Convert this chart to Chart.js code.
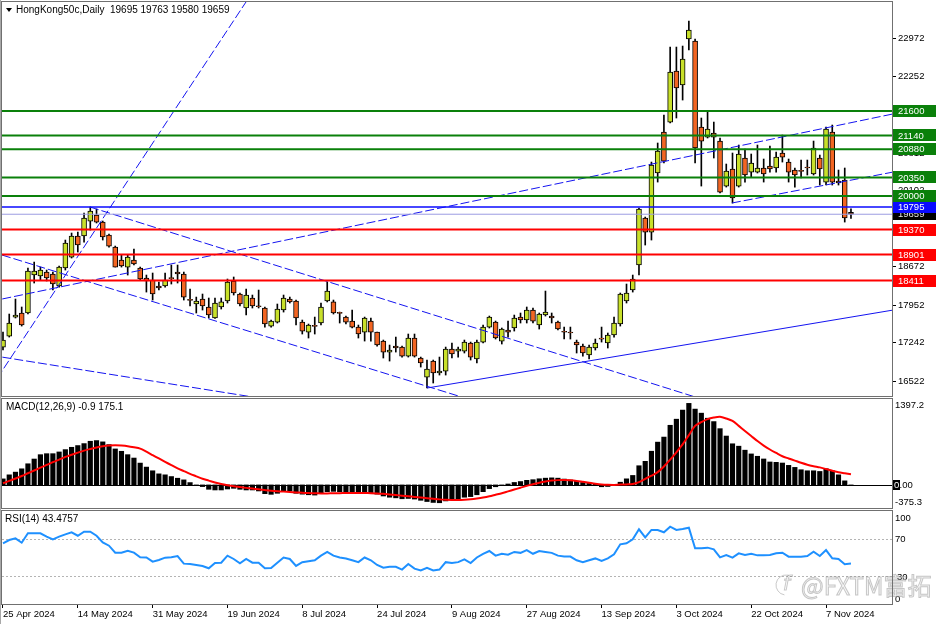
<!DOCTYPE html>
<html>
<head>
<meta charset="utf-8">
<script src="https://cdn.jsdelivr.net/npm/chart.js@4.4.1/dist/chart.umd.min.js"></script>
<style>
  html, body { margin: 0; padding: 0; background: #fff; }
  #wrap { position: relative; width: 936px; height: 624px; overflow: hidden; background: #fff; }
  canvas { position: absolute; left: 0; }
</style>
</head>
<body>
<div id="wrap">
  <canvas id="priceChart" width="936" height="398" style="top:0px"></canvas>
  <canvas id="macdChart" width="936" height="112" style="top:398px"></canvas>
  <canvas id="rsiChart" width="936" height="114" style="top:510px"></canvas>
</div>
<script>
// x axis labels, one every 12 bars
const tickLabels = ["25 Apr 2024", "14 May 2024", "31 May 2024", "19 Jun 2024", "8 Jul 2024", "24 Jul 2024",
  "9 Aug 2024", "27 Aug 2024", "13 Sep 2024", "3 Oct 2024", "22 Oct 2024", "7 Nov 2024"];
const tickEvery = 12;

// daily OHLC, 25 Apr 2024 .. 13 Nov 2024
const open = [17162,17369,17726,17802,17802,18516,18498,18572,18535,18310,
  18648,18854,19250,19250,19531,19644,19512,19268,19042,18798,
  18666,18798,18648,18460,18422,18310,18310,18460,18572,18535,
  18046,17971,18065,17915,17708,17915,18028,18404,18159,17896,
  18084,17934,17896,17557,17632,17858,18065,18028,17632,17444,
  17557,17614,18028,18010,17802,17726,17651,17538,17444,17651,
  17444,17275,17068,17181,17162,16993,17332,16956,16598,16899,
  16674,16711,17125,17087,17087,17238,16937,17256,17538,17632,
  17275,17482,17520,17726,17670,17858,17576,17764,17745,17632,
  17444,17444,17256,17181,17012,17144,17313,17238,17388,17595,
  18028,18234,18704,19588,19324,20434,21204,21392,22351,22088,
  22953,22915,21298,21110,21186,21035,20189,20509,20189,20716,
  20452,20452,20528,20565,20528,20810,20640,20490,20471,20546,
  20415,20716,20264,21204,20283,20302,19695];
const high = [17444,17783,18065,17915,18648,18760,18666,18610,18572,18686,
  19174,19306,19324,19682,19795,19757,19531,19287,19061,18892,
  18892,19005,18666,18516,18554,18385,18554,18704,18704,18572,
  18253,18102,18159,18084,18084,18084,18441,18479,18178,18253,
  18140,18234,17915,17670,17971,18140,18102,18046,17670,17595,
  17726,17990,18385,18046,17820,17745,17858,17576,17726,17708,
  17444,17294,17200,17350,17181,17407,17407,16974,16918,16918,
  16974,17162,17238,17162,17294,17256,17294,17576,17745,17651,
  17520,17651,17764,17802,17915,17896,17802,18215,17802,17651,
  17538,17538,17294,17219,17200,17313,17538,17426,17726,18178,
  18347,18516,19776,19606,20640,20998,21524,22802,22802,22821,
  23291,22953,21468,21599,21392,21092,20603,20810,20960,20885,
  20791,20960,20697,20941,20828,21148,20697,20528,20678,20678,
  21035,20772,21298,21336,20490,20528,19763];
const low = [17106,17350,17708,17557,17783,18366,18422,18404,18234,18290,
  18610,18836,18948,19136,19362,19494,19174,19042,18666,18666,
  18516,18704,18422,18196,18046,18234,18290,18347,18366,18046,
  17934,17802,17858,17708,17700,17877,17990,18140,17934,17764,
  17896,17896,17538,17538,17614,17820,17990,17576,17407,17332,
  17407,17576,18010,17783,17614,17595,17520,17332,17275,17275,
  17181,16956,16899,17068,16974,16974,16974,16786,16392,16486,
  16636,16636,16956,16974,17050,16918,16862,17238,17520,17313,
  17219,17350,17463,17614,17614,17614,17501,17745,17614,17482,
  17313,17313,17050,16993,16937,17106,17256,17144,17350,17557,
  17990,18196,18516,19080,19174,20264,20622,21374,21468,21806,
  22746,20622,20189,21092,20716,20058,20170,19870,20170,20264,
  20358,20434,20264,20452,20452,20640,20264,20170,20340,20396,
  20396,20208,20208,20208,20208,19512,19580];
const close = [17294,17614,17764,17576,18591,18591,18610,18460,18347,18666,
  19118,19250,19080,19588,19719,19512,19231,19061,18666,18686,
  18854,18723,18441,18404,18159,18272,18422,18450,18535,18102,
  18040,18028,17934,17764,17990,18010,18385,18178,17971,18140,
  17934,17920,17595,17651,17877,18084,18010,17708,17463,17576,
  17550,17915,18215,17802,17795,17632,17538,17407,17708,17444,
  17200,17068,17106,17144,16993,17332,16993,16862,16749,16674,
  16711,17125,17031,17125,17256,16974,17256,17538,17726,17332,
  17501,17444,17708,17670,17858,17651,17783,17820,17708,17501,
  17440,17426,17200,17050,17162,17238,17310,17388,17614,18159,
  18178,18441,19757,19324,20584,20847,20659,22332,22032,22577,
  23122,20904,21035,21261,21110,20076,20471,19964,20791,20396,
  20622,20528,20415,20509,20734,20734,20452,20396,20465,20528,
  20904,20509,21261,20264,20246,19588,19659];

// MACD(12,26,9): histogram (main) and signal
const macdHist = [98,164,208,262,344,421,492,508,508,536,
  574,612,640,672,710,721,700,656,585,547,
  492,437,355,290,230,180,164,136,109,82,
  38,0,-27,-71,-82,-82,-66,-55,-71,-82,
  -82,-98,-142,-153,-136,-109,-98,-136,-150,-160,
  -165,-140,-110,-105,-110,-120,-130,-140,-130,-130,
  -150,-180,-200,-210,-225,-220,-230,-250,-270,-285,
  -290,-260,-245,-230,-200,-190,-160,-110,-60,-30,
  -5,15,40,55,75,85,100,110,115,110,
  95,80,60,40,25,10,-30,-25,5,44,
  99,154,312,384,548,696,778,970,1069,1217,
  1326,1233,1167,1085,1030,915,795,669,630,565,
  504,466,422,373,367,356,318,285,247,230,
  230,219,263,230,164,66,-0.9];
const macdSignal = [27,65,105,145,190,235,280,325,370,412,
  455,490,525,558,585,610,628,640,645,640,
  630,612,590,540,485,430,375,322,270,225,
  180,140,100,70,40,15,-5,-22,-35,-48,
  -60,-72,-84,-95,-103,-109,-116,-122,-128,-132,
  -136,-138,-138,-136,-134,-132,-130,-130,-132,-134,
  -138,-145,-155,-165,-175,-185,-195,-205,-215,-225,
  -235,-242,-245,-245,-240,-232,-220,-205,-185,-160,
  -135,-105,-75,-45,-15,10,35,55,70,78,
  80,75,65,50,35,20,8,2,0,5,
  8,15,45,99,150,208,300,411,530,658,
  810,960,1020,1069,1095,1107,1080,1041,960,877,
  795,713,640,576,520,466,430,395,360,329,
  305,285,258,230,205,190,175.1];

// RSI(14)
const rsi = [65.3,68.8,70.6,65.9,76,76,76,72.4,69.5,72.4,
  74.9,77.1,73.4,77.8,77.8,73.4,66.3,62.7,55.2,55.2,
  57.3,55.2,50.2,50,45.5,47.3,49.8,50.2,51.6,43.4,
  43,41.9,40.9,38.4,44.1,44.4,52,48.4,43.7,48.4,
  44.4,44.4,38.4,38.7,44.4,50,48.4,40.9,45,46,
  47,52,56,52,50,49,47,45,50,47,
  42,39,40,40,37,43,38,36,39,36,
  37,45,44,45,48,44,50,54,57,52,
  54,53,56,55,58,54,57,56,55,52,
  51,51,47,45,47,49,46.2,49.1,53.4,64.2,
  65.3,69.5,80.3,71.7,79.6,79.6,77.1,83.1,79.6,80.6,
  82,59.9,59.9,60.6,58.8,50.2,52.7,49.8,54.5,52.7,
  54,52.3,52.3,52.7,54.5,55.2,50.9,50.9,50.9,51.6,
  56.2,51.6,58,49.1,48.4,42.7,43.4757];

const priceTicks = [22972, 22252, 21532, 20812, 20102, 19392, 18672, 17952, 17242, 16522];
const greenLevels = [21600, 21140, 20880, 20350, 20000];
const redLevels = [19370, 18901, 18411];
const blueLevel = 19795;
const lastPrice = 19659;

// trendlines as [bar index, price] end points
const dashedLines = [
  [[-2, 16385], [42, 24186]],
  [[-2, 18020], [144, 21575]],
  [[13.95, 19795], [112, 16187]],
  [[-2, 18959], [76, 16135]],
  [[-2, 17008], [42, 16187]],
  [[116.9, 19870], [144, 20480]],
];
const solidLines = [
  [[68, 16392], [144, 17882]],
];

const bull = "#c8e02a";
const bear = "#f26522";
const labelFont = "9.5px 'Liberation Sans', Arial, sans-serif";
const titleFont = "10px 'Liberation Sans', Arial, sans-serif";

Chart.defaults.font.family = "'Liberation Sans', Arial, sans-serif";
Chart.defaults.font.size = 9.5;
Chart.defaults.color = "#000";

const idx = close.map((_, i) => i);
const xMin = -0.16;
const xMax = 142.58;

function baseX(show) {
  const axis = {
    type: "linear",
    min: xMin,
    max: xMax,
    offset: false,
    display: show,
    afterBuildTicks: (s) => { s.ticks = tickLabels.map((_, k) => ({ value: k * tickEvery })); },
    ticks: {
      align: "start",
      maxRotation: 0,
      autoSkip: false,
      padding: 1,
      font: { size: 9.5 },
      callback: (v) => tickLabels[Math.round(v / tickEvery)],
    },
    grid: { drawOnChartArea: false, tickLength: 4, color: "#000" },
    border: { display: false },
  };
  if (show) axis.afterFit = (s) => { s.height = 20; };
  return axis;
}

// right axis with a fixed width and no extra label padding
function fitRight(s) {
  s.width = 44;
  s.paddingTop = 0;
  s.paddingBottom = 0;
}

function frame(ctx, a) {
  ctx.save();
  ctx.strokeStyle = "#707070";
  ctx.lineWidth = 1;
  ctx.strokeRect(a.left - 0.5, a.top - 0.5, a.right - a.left + 1, a.bottom - a.top + 1);
  ctx.fillStyle = "#a8a8a8";
  ctx.fillRect(0, 0, 1, ctx.canvas.height);
  ctx.restore();
}

const commonOpts = {
  responsive: false,
  animation: false,
  devicePixelRatio: 1,
  plugins: { legend: { display: false }, tooltip: { enabled: false } },
};

// ---------- price panel ----------
const priceOverlay = {
  id: "priceOverlay",
  afterDatasetsDraw(chart) {
    const { ctx, chartArea: a, scales: { y } } = chart;
    ctx.save();
    ctx.beginPath();
    ctx.rect(a.left, a.top, a.right - a.left, a.bottom - a.top);
    ctx.clip();
    const hline = (v, color, w) => {
      const py = y.getPixelForValue(v);
      ctx.strokeStyle = color;
      ctx.lineWidth = w;
      ctx.beginPath();
      ctx.moveTo(a.left, py);
      ctx.lineTo(a.right, py);
      ctx.stroke();
    };
    hline(lastPrice, "#9c9ce2", 1);
    hline(blueLevel, "#0a0aff", 1.6);
    greenLevels.forEach((v) => hline(v, "#0a800a", 2));
    redLevels.forEach((v) => hline(v, "#ff0000", 2));
    ctx.restore();
  },
  afterDraw(chart) {
    const { ctx, chartArea: a, scales: { y } } = chart;
    ctx.save();
    ctx.font = labelFont;
    ctx.textBaseline = "middle";
    const box = (v, bg, fg) => {
      const py = y.getPixelForValue(v);
      ctx.fillStyle = bg;
      ctx.fillRect(a.right + 1, Math.round(py) - 6, 44, 12);
      ctx.fillStyle = fg;
      ctx.fillText(String(v), a.right + 6, py + 0.5);
    };
    box(lastPrice, "#000", "#e0e0e0");
    box(blueLevel, "#0a0aff", "#fff");
    greenLevels.forEach((v) => box(v, "#0a800a", "#fff"));
    redLevels.forEach((v) => box(v, "#ff0000", "#fff"));

    // title
    ctx.fillStyle = "#000";
    ctx.beginPath();
    ctx.moveTo(6, 8); ctx.lineTo(12, 8); ctx.lineTo(9, 12); ctx.closePath();
    ctx.fill();
    ctx.font = titleFont;
    ctx.fillText("HongKong50c,Daily  19695 19763 19580 19659", 16, 10.5);
    ctx.restore();
    frame(ctx, a);
  },
};

new Chart(document.getElementById("priceChart"), {
  type: "bar",
  data: {
    datasets: [
      ...dashedLines.map((l) => ({
        type: "line",
        data: l.map((p) => ({ x: p[0], y: p[1] })),
        borderColor: "#1414f0",
        borderWidth: 1,
        borderDash: [9, 3],
        pointRadius: 0,
        order: 0,
      })),
      ...solidLines.map((l) => ({
        type: "line",
        data: l.map((p) => ({ x: p[0], y: p[1] })),
        borderColor: "#1414f0",
        borderWidth: 1,
        pointRadius: 0,
        order: 0,
      })),
      {
        label: "body",
        data: idx.map((i) => ({ x: i, y: [open[i], close[i]] })),
        backgroundColor: idx.map((i) => (close[i] >= open[i] ? bull : bear)),
        borderColor: "#000",
        borderWidth: 1,
        borderSkipped: false,
        barThickness: 5,
        minBarLength: 1,
        grouped: false,
        order: 1,
      },
      {
        label: "wick",
        data: idx.map((i) => ({ x: i, y: [low[i], high[i]] })),
        backgroundColor: "#000",
        barThickness: 1,
        grouped: false,
        order: 2,
      },
    ],
  },
  options: {
    ...commonOpts,
    layout: { padding: { top: 2, bottom: 2, left: 2, right: 0 } },
    scales: {
      x: baseX(false),
      y: {
        position: "right",
        min: 16242,
        max: 23649,
        afterBuildTicks: (s) => { s.ticks = priceTicks.map((v) => ({ value: v })); },
        afterFit: fitRight,
        ticks: { padding: 2, font: { size: 9.5 }, callback: (v) => String(v) },
        grid: { drawOnChartArea: false, tickLength: 4, color: "#000" },
        border: { display: false },
      },
    },
  },
  plugins: [priceOverlay],
});

// ---------- MACD panel ----------
const macdOverlay = {
  id: "macdOverlay",
  beforeDatasetsDraw(chart) {
    const { ctx, chartArea: a, scales: { y } } = chart;
    const py = Math.round(y.getPixelForValue(0)) + 0.5;
    ctx.save();
    ctx.strokeStyle = "#000";
    ctx.lineWidth = 1;
    ctx.beginPath();
    ctx.moveTo(a.left, py);
    ctx.lineTo(a.right, py);
    ctx.stroke();
    ctx.restore();
  },
  afterDraw(chart) {
    const { ctx, chartArea: a, scales: { y } } = chart;
    ctx.save();
    ctx.font = labelFont;
    ctx.textBaseline = "middle";
    ctx.fillStyle = "#000";
    const zy = y.getPixelForValue(0);
    ctx.fillText("1397.2", a.right + 3, y.getPixelForValue(1397.2) + 6);
    ctx.fillText("-375.3", a.right + 3, y.getPixelForValue(-375.3) - 6);
    ctx.fillRect(a.right + 1, Math.round(zy) - 5, 7, 10);
    ctx.fillStyle = "#fff";
    ctx.fillText("0", a.right + 2, zy);
    ctx.fillStyle = "#000";
    ctx.fillText(".00", a.right + 7.5, zy);
    ctx.font = titleFont;
    ctx.fillText("MACD(12,26,9) -0.9 175.1", 6, 9.5);
    ctx.restore();
    frame(ctx, a);
  },
};

new Chart(document.getElementById("macdChart"), {
  type: "bar",
  data: {
    datasets: [
      {
        type: "line",
        data: idx.map((i) => ({ x: i, y: macdSignal[i] })),
        borderColor: "#ff0000",
        borderWidth: 2,
        pointRadius: 0,
        tension: 0.3,
        order: 0,
      },
      {
        data: idx.map((i) => ({ x: i, y: macdHist[i] })),
        backgroundColor: "#000",
        barThickness: 4.5,
        grouped: false,
        order: 1,
      },
    ],
  },
  options: {
    ...commonOpts,
    layout: { padding: { top: 1, bottom: 2, left: 2, right: 0 } },
    scales: {
      x: baseX(false),
      y: {
        position: "right",
        min: -375.3,
        max: 1397.2,
        afterFit: fitRight,
        ticks: { display: false },
        grid: { display: false },
        border: { display: false },
      },
    },
  },
  plugins: [macdOverlay],
});

// ---------- RSI panel ----------
const rsiOverlay = {
  id: "rsiOverlay",
  beforeDatasetsDraw(chart) {
    const { ctx, chartArea: a, scales: { y } } = chart;
    ctx.save();
    ctx.strokeStyle = "#b4b4b4";
    ctx.lineWidth = 1;
    ctx.setLineDash([2, 2]);
    [70, 30].forEach((v) => {
      const py = Math.round(y.getPixelForValue(v)) + 0.5;
      ctx.beginPath();
      ctx.moveTo(a.left, py);
      ctx.lineTo(a.right, py);
      ctx.stroke();
    });
    ctx.restore();
  },
  afterDraw(chart) {
    const { ctx, chartArea: a, scales: { y } } = chart;
    ctx.save();
    ctx.font = labelFont;
    ctx.textBaseline = "middle";
    ctx.fillStyle = "#000";
    ctx.fillText("100", a.right + 3, y.getPixelForValue(100) + 7);
    ctx.fillText("70", a.right + 3, y.getPixelForValue(70));
    ctx.fillText("30", a.right + 5, y.getPixelForValue(30) + 1);
    ctx.fillText("0", a.right + 3, y.getPixelForValue(0) - 5);
    ctx.font = titleFont;
    ctx.fillText("RSI(14) 43.4757", 5, 9.5);

    // watermark
    ctx.strokeStyle = "rgba(120,120,120,0.4)";
    ctx.fillStyle = "rgba(240,240,240,0.5)";
    ctx.lineWidth = 1;
    ctx.beginPath();
    ctx.arc(786, 75, 10, Math.PI * 0.55, Math.PI * 1.6);
    ctx.stroke();
    ctx.font = "italic 20px 'DejaVu Sans', sans-serif";
    ctx.strokeText("f", 783, 75);
    ctx.font = "24px 'Noto Sans CJK SC', sans-serif";
    ctx.fillText("@FXTM富拓", 801, 76);
    ctx.strokeText("@FXTM富拓", 801, 76);
    ctx.restore();
    frame(ctx, a);
  },
};

new Chart(document.getElementById("rsiChart"), {
  type: "line",
  data: {
    datasets: [
      {
        data: idx.map((i) => ({ x: i, y: rsi[i] })),
        borderColor: "#1e90ff",
        borderWidth: 2,
        pointRadius: 0,
        tension: 0,
      },
    ],
  },
  options: {
    ...commonOpts,
    layout: { padding: { top: 1, bottom: 0, left: 2, right: 0 } },
    scales: {
      x: baseX(true),
      y: {
        position: "right",
        min: 0,
        max: 100,
        afterFit: fitRight,
        ticks: { display: false },
        grid: { display: false },
        border: { display: false },
      },
    },
  },
  plugins: [rsiOverlay],
});
</script>
</body>
</html>
